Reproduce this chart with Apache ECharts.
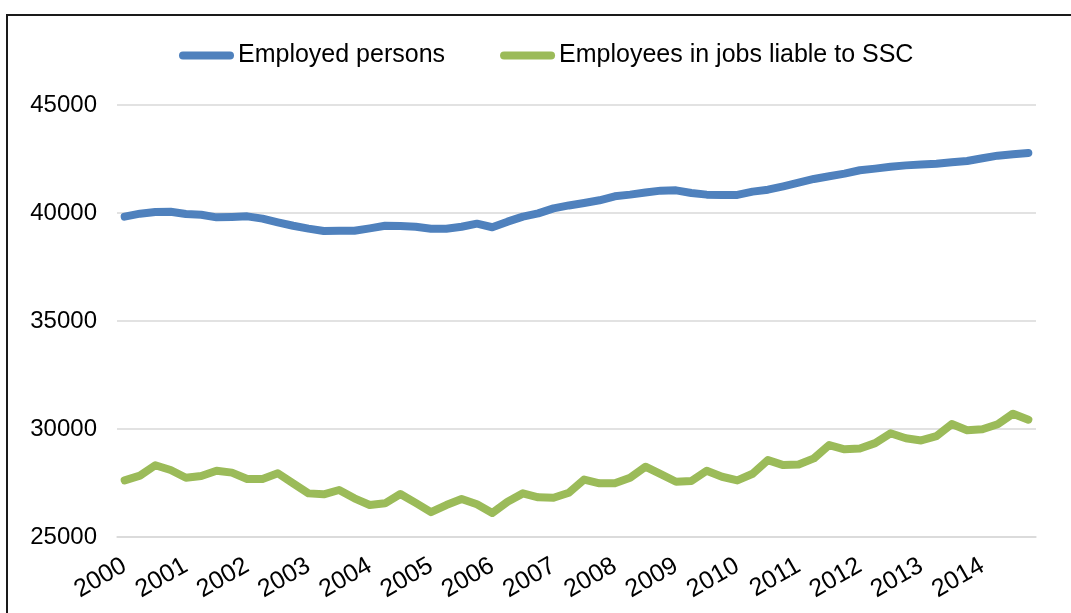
<!DOCTYPE html>
<html>
<head>
<meta charset="utf-8">
<script src="https://cdn.jsdelivr.net/npm/echarts@6/dist/echarts.min.js"></script>
<style>
  html, body { margin: 0; padding: 0; background: #fff; }
  #chart { width: 1071px; height: 613px; }
</style>
</head>
<body>
<div id="chart"></div>
<script>
// Years shown on the category axis; data are quarterly (4 points per year)
const years = ['2000','2001','2002','2003','2004','2005','2006','2007','2008','2009','2010','2011','2012','2013','2014'];
const quarters = ['Q1','Q2','Q3','Q4'];

// Employed persons (thousands)
const employed = [
  39830, 39970, 40045, 40060, 39955, 39920, 39800, 39815, 39845, 39740,
  39570, 39410, 39275, 39165, 39180, 39180, 39290, 39410, 39400, 39365,
  39275, 39275, 39365, 39505, 39340, 39600, 39830, 39985, 40215, 40350,
  40465, 40590, 40775, 40850, 40945, 41035, 41050, 40925, 40850, 40835,
  40835, 40990, 41080, 41235, 41405, 41575, 41700, 41825, 41980, 42055,
  42145, 42205, 42240, 42285, 42350, 42410, 42535, 42655, 42720, 42780
];

// Employees in jobs liable to social security contributions (thousands)
const ssc = [
  27625, 27840, 28320, 28100, 27745, 27825, 28070, 27980, 27685, 27685,
  27950, 27485, 27020, 26975, 27175, 26790, 26480, 26560, 26990, 26580,
  26150, 26480, 26760, 26515, 26110, 26635, 27020, 26835, 26820, 27050,
  27660, 27485, 27485, 27740, 28255, 27915, 27560, 27590, 28070, 27790,
  27620, 27930, 28560, 28330, 28360, 28640, 29255, 29060, 29100, 29345,
  29800, 29570, 29470, 29670, 30230, 29945, 29985, 30220, 30710, 30430
];

const seriesNames = ['Employed persons', 'Employees in jobs liable to SSC'];

// Quarter categories, e.g. "2000 Q1"
const categories = [];
years.forEach(y => quarters.forEach(q => categories.push(y + ' ' + q)));

const FONT = '"Liberation Sans", Arial, sans-serif';
const capsule = 'path://M4,0 L51,0 A4,4 0 0 1 51,8 L4,8 A4,4 0 0 1 4,0 Z';

const chart = echarts.init(document.getElementById('chart'), null, { renderer: 'canvas' });
chart.setOption({
  animation: false,
  backgroundColor: '#ffffff',
  textStyle: { fontFamily: FONT },
  graphic: [{
    type: 'rect',
    shape: { x: 7, y: 15, width: 1100, height: 700 },
    style: { fill: 'none', stroke: '#1a1a1a', lineWidth: 2 },
    silent: true
  }],
  legend: {
    left: 179,
    top: 43,
    padding: 0,
    itemWidth: 55,
    itemHeight: 8,
    itemGap: 55,
    textStyle: { fontFamily: FONT, fontSize: 25, color: '#000', padding: [0, 0, 0, -1] },
    data: [
      { name: seriesNames[0], icon: capsule },
      { name: seriesNames[1], icon: capsule }
    ]
  },
  grid: { left: 117, right: 35, top: 105, bottom: 76, containLabel: false },
  xAxis: {
    type: 'category',
    data: categories,
    boundaryGap: true,
    axisLine: { show: true, lineStyle: { color: '#D9D9D9', width: 1.5 } },
    axisTick: { show: false },
    axisLabel: {
      interval: 3,
      rotate: 30,
      margin: 27,
      fontFamily: FONT,
      fontSize: 25,
      color: '#000',
      formatter: v => v.split(' ')[0]
    },
    splitLine: { show: false }
  },
  yAxis: {
    type: 'value',
    min: 25000,
    max: 45000,
    interval: 5000,
    axisLine: { show: false },
    axisTick: { show: false },
    axisLabel: {
      margin: 20, fontFamily: FONT, fontSize: 24, color: '#000',
      formatter: v => String(v)
    },
    splitLine: { lineStyle: { color: '#D9D9D9', width: 1.5 } }
  },
  series: [
    {
      name: seriesNames[0],
      type: 'line',
      data: employed,
      showSymbol: false,
      symbol: 'none',
      color: '#4F81BD',
      lineStyle: { width: 8, color: '#4F81BD', cap: 'round', join: 'round' }
    },
    {
      name: seriesNames[1],
      type: 'line',
      data: ssc,
      showSymbol: false,
      symbol: 'none',
      color: '#9BBB59',
      lineStyle: { width: 8, color: '#9BBB59', cap: 'round', join: 'round' }
    }
  ]
});
</script>
</body>
</html>
